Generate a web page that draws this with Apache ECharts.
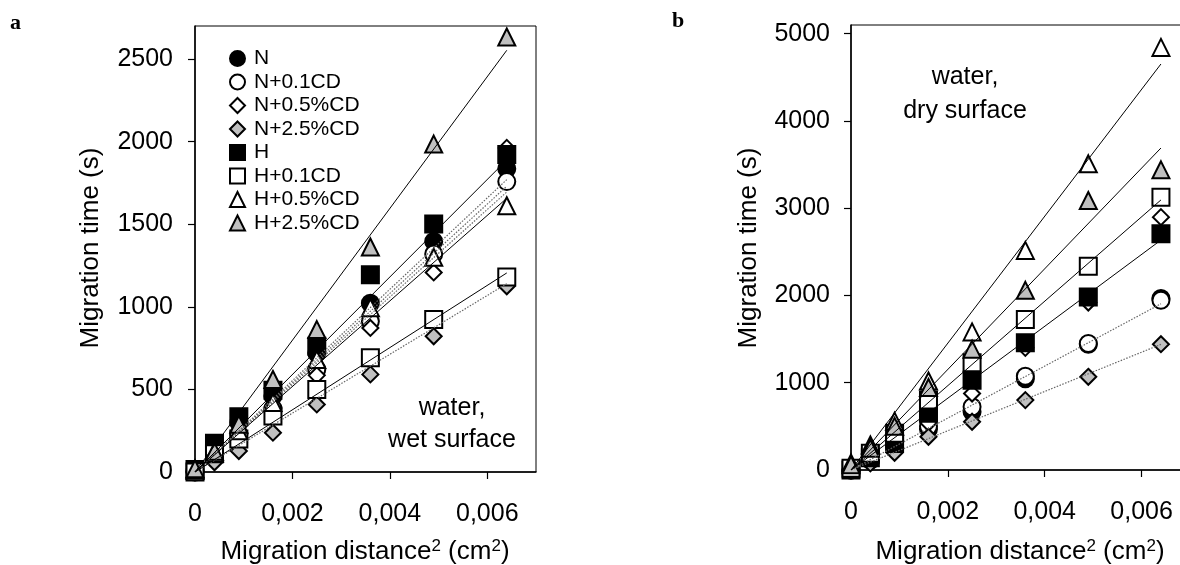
<!DOCTYPE html>
<html>
<head>
<meta charset="utf-8">
<script src="https://cdn.jsdelivr.net/npm/echarts@6/dist/echarts.min.js"></script>
<style>
  html, body { margin: 0; padding: 0; background: #fff; overflow: hidden; }
  #chart { width: 1190px; height: 565px; }
</style>
</head>
<body>
<div id="chart"></div>
<script>
// Squared migration distance (cm^2) at which times were recorded
const distSq = [0, 0.0004, 0.0009, 0.0016, 0.0025, 0.0036, 0.0049, 0.0064];

const seriesNames = ['N', 'N+0.1CD', 'N+0.5%CD', 'N+2.5%CD', 'H', 'H+0.1CD', 'H+0.5%CD', 'H+2.5%CD'];

// Panel a: water, wet surface — migration time (s)
const wetN   = [5, 150, 300, 460, 720, 1022, 1396, 1836];
const wetN01 = [0, 125, 228, 385, 621, 912, 1320, 1758];
const wetN05 = [0, 100, 180, 360, 585, 872, 1208, 1962];
const wetN25 = [0, 59, 127, 238, 409, 591, 822, 1124];
const wetH   = [15, 174, 335, 495, 761, 1194, 1502, 1922];
const wetH01 = [0, 110, 200, 339, 500, 691, 923, 1180];
const wetH05 = [10, 115, 250, 421, 681, 995, 1300, 1612];
const wetH25 = [20, 125, 289, 560, 862, 1362, 1985, 2633];

// Panel b: water, dry surface — migration time (s)
const dryN   = [0, 110, 260, 470, 667, 1045, 1440, 1965];
const dryN01 = [0, 125, 290, 500, 724, 1075, 1449, 1945];
const dryN05 = [0, 100, 320, 540, 877, 1400, 1920, 2898];
const dryN25 = [0, 76, 198, 381, 553, 801, 1068, 1442];
const dryH   = [0, 140, 305, 649, 1030, 1457, 1983, 2708];
const dryH01 = [20, 191, 420, 801, 1230, 1724, 2334, 3127];
const dryH05 = [80, 286, 560, 1020, 1583, 2517, 3509, 4843];
const dryH25 = [60, 250, 500, 945, 1385, 2059, 3089, 3440];

// Regression lines: value at x = 0 and at the last distance (null = no line)
const fitX = [0, 0.0064];
const wetFitEnd = [1770, 1730, 1695, 1140, 1889, 1205, 1657, 2553];
const dryFitEnd = [null, 1905, null, 1440, 2635, 3095, 4653, 3690];

// Tick values
const xTicks = [0, 0.002, 0.004, 0.006];
const yTicksWet = [0, 500, 1000, 1500, 2000, 2500];
const yTicksDry = [0, 1000, 2000, 3000, 4000, 5000];

const FONT = '"Liberation Sans", Arial, sans-serif';
const GRAY = '#c0c0c0';

// Marker look per series, same order as seriesNames
const markers = [
  { symbol: 'circle',   size: 17, fill: '#000' },
  { symbol: 'circle',   size: 17, fill: '#fff' },
  { symbol: 'diamond',  size: 16, fill: '#fff' },
  { symbol: 'diamond',  size: 16, fill: GRAY },
  { symbol: 'rect',     size: 17, fill: '#000' },
  { symbol: 'rect',     size: 17, fill: '#fff' },
  { symbol: 'triangle', size: 17, fill: '#fff' },
  { symbol: 'triangle', size: 17, fill: GRAY }
];
// Solid regression lines for H groups, dotted for N groups
const lineDotted = [true, true, true, true, false, false, false, false];

const wetData = [wetN, wetN01, wetN05, wetN25, wetH, wetH01, wetH05, wetH25];
const dryData = [dryN, dryN01, dryN05, dryN25, dryH, dryH01, dryH05, dryH25];

function pairs(values) {
  return distSq.map((x, i) => [x, values[i]]);
}

function xAxisCfg(gridIndex) {
  return {
    gridIndex, type: 'value', min: 0, max: 0.007,
    axisLine: { show: true, onZero: false, lineStyle: { color: '#000', width: 1.5 } },
    axisTick: { show: true, inside: false, length: 7, customValues: xTicks, lineStyle: { color: '#000', width: 1.2 } },
    axisLabel: {
      customValues: xTicks, margin: 30, fontSize: 25, color: '#000', fontFamily: FONT,
      formatter: v => v === 0 ? '0' : v.toFixed(3).replace('.', ',')
    },
    splitLine: { show: false }
  };
}

function yAxisCfg(gridIndex, max, ticks, margin) {
  return {
    gridIndex, type: 'value', min: 0, max,
    axisLine: { show: true, onZero: false, lineStyle: { color: '#000', width: 1.5 } },
    axisTick: { show: true, inside: false, length: 7, customValues: ticks, lineStyle: { color: '#000', width: 1.2 } },
    axisLabel: {
      customValues: ticks, margin, fontSize: 25, color: '#000', fontFamily: FONT,
      formatter: v => String(Math.round(v))
    },
    splitLine: { show: false }
  };
}

const series = [];
function addPanel(dataSets, fitEnds, axisIndex) {
  dataSets.forEach((vals, i) => {
    const m = markers[i];
    series.push({
      name: seriesNames[i], type: 'scatter',
      xAxisIndex: axisIndex, yAxisIndex: axisIndex,
      symbol: m.symbol, symbolSize: m.size, z: 2,
      itemStyle: { color: m.fill, borderColor: '#000', borderWidth: 2, opacity: 1 },
      emphasis: { disabled: true },
      data: pairs(vals)
    });
  });
  fitEnds.forEach((end, i) => {
    if (end === null) return;
    series.push({
      name: 'fit ' + seriesNames[i] + ' ' + axisIndex, type: 'line',
      xAxisIndex: axisIndex, yAxisIndex: axisIndex,
      showSymbol: false, silent: true, z: 3,
      lineStyle: lineDotted[i]
        ? { color: '#666', width: 1.2, type: [1.5, 1.5] }
        : { color: '#000', width: 1 },
      data: [[fitX[0], 0], [fitX[1], end]]
    });
  });
}
addPanel(wetData, wetFitEnd, 0);
addPanel(dryData, dryFitEnd, 1);

const supRich = { sup: { fontSize: 17, fontFamily: FONT, color: '#000', verticalAlign: 'top', padding: [0, 0, 11, 0] } };
const xTitle = 'Migration distance{sup|2} (cm{sup|2})';

const option = {
  animation: false,
  backgroundColor: '#fff',
  grid: [
    { left: 195, top: 26, width: 341, height: 446, show: true, borderColor: '#000', borderWidth: 1 },
    { left: 851, top: 25, width: 340, height: 445, show: true, borderColor: '#000', borderWidth: 1 }
  ],
  xAxis: [xAxisCfg(0), xAxisCfg(1)],
  yAxis: [yAxisCfg(0, 2700, yTicksWet, 22), yAxisCfg(1, 5100, yTicksDry, 21)],
  legend: {
    data: seriesNames,
    orient: 'vertical', left: 224, top: 43,
    itemWidth: 15, itemHeight: 15, itemGap: 2.5,
    selectedMode: false,
    textStyle: { fontSize: 21, lineHeight: 21, color: '#000', fontFamily: FONT, padding: [0, 0, 0, 4] }
  },
  graphic: [
    { type: 'text', left: 10, top: 12, style: { text: 'a', font: 'bold 22px "Liberation Serif", serif', fill: '#000' } },
    { type: 'text', left: 672, top: 10, style: { text: 'b', font: 'bold 22px "Liberation Serif", serif', fill: '#000' } },
    { type: 'text', x: 91, y: 248, rotation: Math.PI / 2,
      style: { text: 'Migration time (s)', font: '26px ' + FONT, fill: '#000', align: 'center', verticalAlign: 'middle' } },
    { type: 'text', x: 749, y: 248, rotation: Math.PI / 2,
      style: { text: 'Migration time (s)', font: '26px ' + FONT, fill: '#000', align: 'center', verticalAlign: 'middle' } },
    { type: 'text', x: 365, y: 552,
      style: { text: xTitle, font: '26px ' + FONT, fill: '#000', align: 'center', verticalAlign: 'middle', rich: supRich } },
    { type: 'text', x: 1020, y: 552,
      style: { text: xTitle, font: '26px ' + FONT, fill: '#000', align: 'center', verticalAlign: 'middle', rich: supRich } },
    { type: 'text', x: 452, y: 408,
      style: { text: 'water,', font: '25px ' + FONT, fill: '#000', align: 'center', verticalAlign: 'middle' } },
    { type: 'text', x: 452, y: 440,
      style: { text: 'wet surface', font: '25px ' + FONT, fill: '#000', align: 'center', verticalAlign: 'middle' } },
    { type: 'text', x: 965, y: 77,
      style: { text: 'water,', font: '25px ' + FONT, fill: '#000', align: 'center', verticalAlign: 'middle' } },
    { type: 'text', x: 965, y: 111,
      style: { text: 'dry surface', font: '25px ' + FONT, fill: '#000', align: 'center', verticalAlign: 'middle' } }
  ],
  series
};

const chart = echarts.init(document.getElementById('chart'));
chart.setOption(option);
</script>
</body>
</html>
